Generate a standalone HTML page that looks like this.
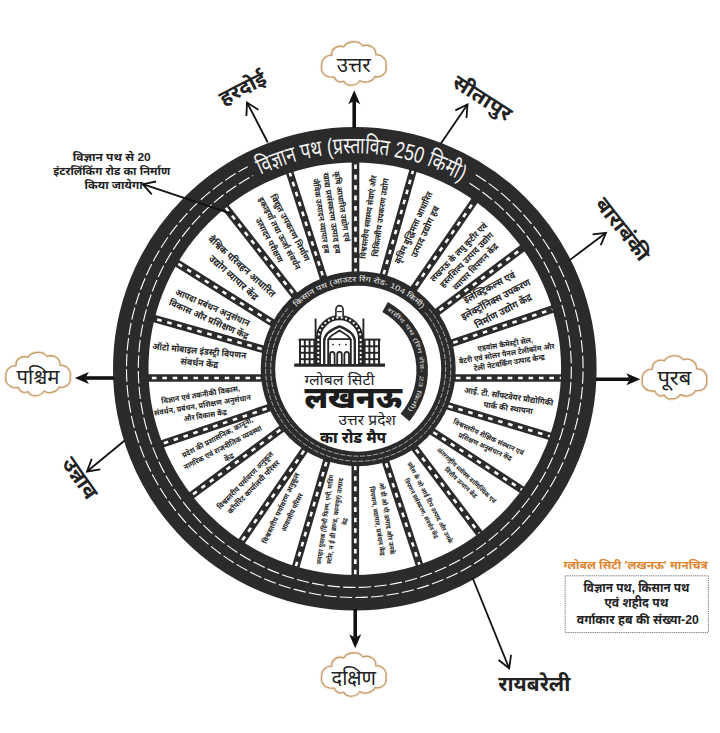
<!DOCTYPE html>
<html lang="hi"><head><meta charset="utf-8"><title>ग्लोबल सिटी लखनऊ</title><style>html,body{margin:0;padding:0;background:#fff}body{width:720px;height:733px;overflow:hidden}</style></head><body>
<svg width="720" height="733" viewBox="0 0 720 733" style="display:block;font-family:'Liberation Sans','Noto Sans Devanagari','Mukta','Lohit Devanagari',sans-serif">
<rect width="720" height="733" fill="#fff"/>
<g id="spokes">
<line x1="355.50" y1="280.50" x2="355.50" y2="155.75" stroke="#2b2b2b" stroke-width="7.6"/>
<line x1="355.50" y1="280.50" x2="355.50" y2="155.75" stroke="#fff" stroke-width="2.6" stroke-dasharray="4.6 5.8" stroke-dashoffset="-7.5"/>
<line x1="381.62" y1="281.45" x2="414.68" y2="164.80" stroke="#2b2b2b" stroke-width="7.6"/>
<line x1="381.62" y1="281.45" x2="414.68" y2="164.80" stroke="#fff" stroke-width="2.6" stroke-dasharray="4.6 5.8" stroke-dashoffset="-7.5"/>
<line x1="411.70" y1="291.58" x2="477.05" y2="197.17" stroke="#2b2b2b" stroke-width="7.6"/>
<line x1="411.70" y1="291.58" x2="477.05" y2="197.17" stroke="#fff" stroke-width="2.6" stroke-dasharray="4.6 5.8" stroke-dashoffset="-7.5"/>
<line x1="433.60" y1="314.80" x2="526.40" y2="245.20" stroke="#2b2b2b" stroke-width="7.6"/>
<line x1="433.60" y1="314.80" x2="526.40" y2="245.20" stroke="#fff" stroke-width="2.6" stroke-dasharray="4.6 5.8" stroke-dashoffset="-7.5"/>
<line x1="446.17" y1="345.06" x2="557.58" y2="307.44" stroke="#2b2b2b" stroke-width="7.6"/>
<line x1="446.17" y1="345.06" x2="557.58" y2="307.44" stroke="#fff" stroke-width="2.6" stroke-dasharray="4.6 5.8" stroke-dashoffset="-7.5"/>
<line x1="448.25" y1="378.00" x2="568.00" y2="378.00" stroke="#2b2b2b" stroke-width="7.6"/>
<line x1="448.25" y1="378.00" x2="568.00" y2="378.00" stroke="#fff" stroke-width="2.6" stroke-dasharray="4.6 5.8" stroke-dashoffset="-7.5"/>
<line x1="441.08" y1="403.98" x2="557.67" y2="438.52" stroke="#2b2b2b" stroke-width="7.6"/>
<line x1="441.08" y1="403.98" x2="557.67" y2="438.52" stroke="#fff" stroke-width="2.6" stroke-dasharray="4.6 5.8" stroke-dashoffset="-7.5"/>
<line x1="427.04" y1="428.14" x2="526.71" y2="492.86" stroke="#2b2b2b" stroke-width="7.6"/>
<line x1="427.04" y1="428.14" x2="526.71" y2="492.86" stroke="#fff" stroke-width="2.6" stroke-dasharray="4.6 5.8" stroke-dashoffset="-7.5"/>
<line x1="411.42" y1="443.62" x2="483.58" y2="538.88" stroke="#2b2b2b" stroke-width="7.6"/>
<line x1="411.42" y1="443.62" x2="483.58" y2="538.88" stroke="#fff" stroke-width="2.6" stroke-dasharray="4.6 5.8" stroke-dashoffset="-7.5"/>
<line x1="383.75" y1="456.15" x2="422.00" y2="572.60" stroke="#2b2b2b" stroke-width="7.6"/>
<line x1="383.75" y1="456.15" x2="422.00" y2="572.60" stroke="#fff" stroke-width="2.6" stroke-dasharray="4.6 5.8" stroke-dashoffset="-7.5"/>
<line x1="355.30" y1="458.25" x2="355.30" y2="583.00" stroke="#2b2b2b" stroke-width="7.6"/>
<line x1="355.30" y1="458.25" x2="355.30" y2="583.00" stroke="#fff" stroke-width="2.6" stroke-dasharray="4.6 5.8" stroke-dashoffset="-7.5"/>
<line x1="328.50" y1="454.82" x2="294.00" y2="572.68" stroke="#2b2b2b" stroke-width="7.6"/>
<line x1="328.50" y1="454.82" x2="294.00" y2="572.68" stroke="#fff" stroke-width="2.6" stroke-dasharray="4.6 5.8" stroke-dashoffset="-7.5"/>
<line x1="308.29" y1="444.67" x2="237.96" y2="546.58" stroke="#2b2b2b" stroke-width="7.6"/>
<line x1="308.29" y1="444.67" x2="237.96" y2="546.58" stroke="#fff" stroke-width="2.6" stroke-dasharray="4.6 5.8" stroke-dashoffset="-7.5"/>
<line x1="286.43" y1="425.24" x2="187.32" y2="498.51" stroke="#2b2b2b" stroke-width="7.6"/>
<line x1="286.43" y1="425.24" x2="187.32" y2="498.51" stroke="#fff" stroke-width="2.6" stroke-dasharray="4.6 5.8" stroke-dashoffset="-7.5"/>
<line x1="273.83" y1="406.19" x2="154.92" y2="446.31" stroke="#2b2b2b" stroke-width="7.6"/>
<line x1="273.83" y1="406.19" x2="154.92" y2="446.31" stroke="#fff" stroke-width="2.6" stroke-dasharray="4.6 5.8" stroke-dashoffset="-7.5"/>
<line x1="268.00" y1="378.00" x2="142.00" y2="378.00" stroke="#2b2b2b" stroke-width="7.6"/>
<line x1="268.00" y1="378.00" x2="142.00" y2="378.00" stroke="#fff" stroke-width="2.6" stroke-dasharray="4.6 5.8" stroke-dashoffset="-7.5"/>
<line x1="268.95" y1="350.92" x2="147.30" y2="316.58" stroke="#2b2b2b" stroke-width="7.6"/>
<line x1="268.95" y1="350.92" x2="147.30" y2="316.58" stroke="#fff" stroke-width="2.6" stroke-dasharray="4.6 5.8" stroke-dashoffset="-7.5"/>
<line x1="276.78" y1="325.49" x2="173.22" y2="260.76" stroke="#2b2b2b" stroke-width="7.6"/>
<line x1="276.78" y1="325.49" x2="173.22" y2="260.76" stroke="#fff" stroke-width="2.6" stroke-dasharray="4.6 5.8" stroke-dashoffset="-7.5"/>
<line x1="297.45" y1="298.78" x2="222.55" y2="203.72" stroke="#2b2b2b" stroke-width="7.6"/>
<line x1="297.45" y1="298.78" x2="222.55" y2="203.72" stroke="#fff" stroke-width="2.6" stroke-dasharray="4.6 5.8" stroke-dashoffset="-7.5"/>
<line x1="324.94" y1="282.62" x2="288.06" y2="167.38" stroke="#2b2b2b" stroke-width="7.6"/>
<line x1="324.94" y1="282.62" x2="288.06" y2="167.38" stroke="#fff" stroke-width="2.6" stroke-dasharray="4.6 5.8" stroke-dashoffset="-7.5"/>
</g>
<circle cx="354.8" cy="368.7" r="224.05" fill="none" stroke="#2b2b2b" stroke-width="35.50"/>
<path d="M469.53 183.23A216.50 218.70 0 1 1 253.16 175.60" fill="none" stroke="#fff" stroke-width="1.1" stroke-dasharray="12.4 3.2"/>
<path d="M475.78 174.67A228.30 228.80 0 1 1 247.62 166.68" fill="none" stroke="#fff" stroke-width="1.1" stroke-dasharray="12.4 3.2"/>
<path id="tp1" d="M260.71 174.94A215.40 215.40 0 0 1 461.20 181.41" fill="none"/>
<text font-size="23" fill="#f4f4f4"><textPath href="#tp1" textLength="208.6" lengthAdjust="spacingAndGlyphs">विज्ञान पथ (प्रस्तावित 250 किमी)</textPath></text>
<circle cx="358.2" cy="368.7" r="83.0" fill="#fff"/>
<circle cx="358.2" cy="368.7" r="90.25" fill="none" stroke="#2b2b2b" stroke-width="14.50"/>
<path d="M425.23 312.46A87.50 87.50 0 1 1 293.17 310.15" fill="none" stroke="#ddd" stroke-width="0.7" stroke-dasharray="5 1.6"/>
<path d="M429.14 309.18A92.60 92.60 0 1 1 289.38 306.74" fill="none" stroke="#ddd" stroke-width="0.7" stroke-dasharray="5 1.6"/>
<path id="tp2" d="M296.54 307.04A87.20 87.20 0 0 1 421.45 308.68" fill="none"/>
<text font-size="7.4" fill="#eee"><textPath href="#tp2" textLength="139.3" lengthAdjust="spacingAndGlyphs">किसान पथ (आउटर रिंग रोड- 104 किमी)</textPath></text>
<path d="M385.09 306.89A72.90 72.90 0 0 1 404.98 417.45" fill="none" stroke="#2b2b2b" stroke-width="11.5"/>
<path id="tp3" d="M386.87 310.27A70.90 70.90 0 0 1 405.17 414.05" fill="none"/>
<text font-size="5.4" fill="#ddd"><textPath href="#tp3" textLength="114.0" lengthAdjust="spacingAndGlyphs">शहीद पथ (रिंग रोड- 23 किमी)</textPath></text>
<g fill="#262626" font-weight="700" text-anchor="middle">
<text transform="translate(374.90 216.70) rotate(-82.22)" font-size="8.16">
<tspan x="0" y="-3.73" textLength="84" lengthAdjust="spacingAndGlyphs">विश्वस्तरीय स्वास्थ्य सेवाएं और</tspan>
<tspan x="0" y="8.47" textLength="79" lengthAdjust="spacingAndGlyphs">चिकित्सीय उपकरण उद्योग</tspan>
</text>
<text transform="translate(420.00 229.30) rotate(-65.04)" font-size="9.1">
<tspan x="0" y="-3.46" textLength="78.5" lengthAdjust="spacingAndGlyphs">कृत्रिम बुद्धिमत्ता आधारित</tspan>
<tspan x="0" y="8.74" textLength="55.7" lengthAdjust="spacingAndGlyphs">उत्पाद उद्योग हब</tspan>
</text>
<text transform="translate(467.80 259.30) rotate(-46.03)" font-size="8.79">
<tspan x="0" y="-8.55" textLength="77.8" lengthAdjust="spacingAndGlyphs">लखनऊ के लघु कुटीर एवं</tspan>
<tspan x="0" y="2.55" textLength="73" lengthAdjust="spacingAndGlyphs">हस्तशिल्प उत्पाद उद्योग</tspan>
<tspan x="0" y="13.65" textLength="61" lengthAdjust="spacingAndGlyphs">व्यापार विपणन केंद्र</tspan>
</text>
<text transform="translate(497.10 299.30) rotate(-27.69)" font-size="9.88">
<tspan x="0" y="-10.83" textLength="57" lengthAdjust="spacingAndGlyphs">इलेक्ट्रिकल्स एवं</tspan>
<tspan x="0" y="2.87" textLength="77" lengthAdjust="spacingAndGlyphs">इलेक्ट्रॉनिक्स उपकरण</tspan>
<tspan x="0" y="16.57" textLength="62.6" lengthAdjust="spacingAndGlyphs">निर्माण उद्योग केंद्र</tspan>
</text>
<text transform="translate(507.80 353.80) rotate(-9.23)" font-size="7.69">
<tspan x="0" y="-7.17" textLength="56" lengthAdjust="spacingAndGlyphs">एडवांस कैमेस्ट्री सेल,</tspan>
<tspan x="0" y="2.23" textLength="96.7" lengthAdjust="spacingAndGlyphs">बैटरी एवं सोलर पैनल टेलीकॉम और</tspan>
<tspan x="0" y="11.63" textLength="71.8" lengthAdjust="spacingAndGlyphs">टेली नेटवर्किंग उत्पाद केन्द्र</tspan>
</text>
<text transform="translate(508.90 402.70) rotate(8.33)" font-size="8.38">
<tspan x="0" y="-3.32" textLength="90" lengthAdjust="spacingAndGlyphs">आई. टी. सॉफ्टवेयर प्रौद्योगिकी</tspan>
<tspan x="0" y="8.18" textLength="49.5" lengthAdjust="spacingAndGlyphs">पार्क की स्थापना</tspan>
</text>
<text transform="translate(487.10 442.50) rotate(24.64)" font-size="7.08">
<tspan x="0" y="-3.00" textLength="76.9" lengthAdjust="spacingAndGlyphs">विश्वस्तरीय शैक्षिक संस्थान एवं</tspan>
<tspan x="0" y="7.10" textLength="58.3" lengthAdjust="spacingAndGlyphs">प्रशिक्षण अनुसंधान केंद्र</tspan>
</text>
<text transform="translate(463.70 479.50) rotate(42.96)" font-size="6.4">
<tspan x="0" y="-2.74" textLength="78.4" lengthAdjust="spacingAndGlyphs">अंतरराष्ट्रीय ब्लॉक्स वाणिज्यिक एवं</tspan>
<tspan x="0" y="6.46" textLength="42" lengthAdjust="spacingAndGlyphs">वित्तीय उत्थान केंद्र</tspan>
</text>
<text transform="translate(425.60 506.10) rotate(62.48)" font-size="6.33">
<tspan x="0" y="-3.41" textLength="90.9" lengthAdjust="spacingAndGlyphs">प्रदेश के जो आई टिप उत्पाद और उनके</tspan>
<tspan x="0" y="7.09" textLength="66.8" lengthAdjust="spacingAndGlyphs">विपणन प्रसंस्करण, संवर्धन केंद्र</tspan>
</text>
<text transform="translate(381.80 520.20) rotate(81.00)" font-size="6.83">
<tspan x="0" y="-3.12" textLength="72.6" lengthAdjust="spacingAndGlyphs">ओ डी ओ पी उत्पाद और उनके</tspan>
<tspan x="0" y="7.08" textLength="69.9" lengthAdjust="spacingAndGlyphs">विपणन, व्यापार, प्रबंधन केंद्र</tspan>
</text>
<text transform="translate(335.40 520.20) rotate(-81.92)" font-size="6.65">
<tspan x="0" y="-8.07" textLength="90.4" lengthAdjust="spacingAndGlyphs">जवाहर पुस्तक (हिन्दी फिल्म, एनी, माडिंग</tspan>
<tspan x="0" y="1.93" textLength="86.8" lengthAdjust="spacingAndGlyphs">स्टोर, न ई डी ब्रान्ड, कानपुर) उत्पाद</tspan>
<tspan x="0" y="11.93" textLength="7" lengthAdjust="spacingAndGlyphs">केंद्र</tspan>
</text>
<text transform="translate(287.00 510.00) rotate(-64.49)" font-size="7.24">
<tspan x="0" y="-3.90" textLength="77.4" lengthAdjust="spacingAndGlyphs">विश्वस्तरीय पर्यावरण अनुकूल</tspan>
<tspan x="0" y="8.10" textLength="41.8" lengthAdjust="spacingAndGlyphs">आवासीय परिसर</tspan>
</text>
<text transform="translate(250.10 483.70) rotate(-45.95)" font-size="7.66">
<tspan x="0" y="-3.08" textLength="77" lengthAdjust="spacingAndGlyphs">विश्वस्तरीय पर्यावरण अनुकूल</tspan>
<tspan x="0" y="7.52" textLength="70.9" lengthAdjust="spacingAndGlyphs">कॉर्पोरेट कार्यालयी परिसर</tspan>
</text>
<text transform="translate(223.80 447.50) rotate(-27.46)" font-size="7.61">
<tspan x="0" y="-9.29" textLength="78.7" lengthAdjust="spacingAndGlyphs">प्रदेश की प्रशासनिक, कानूनी,</tspan>
<tspan x="0" y="2.21" textLength="87" lengthAdjust="spacingAndGlyphs">नागरिक एवं राजनीतिक व्यवस्था</tspan>
<tspan x="0" y="13.71" textLength="10" lengthAdjust="spacingAndGlyphs">केंद्र</tspan>
</text>
<text transform="translate(203.50 405.40) rotate(-9.30)" font-size="7.73">
<tspan x="0" y="-8.36" textLength="79.5" lengthAdjust="spacingAndGlyphs">विज्ञान एवं तकनीकी विकास,</tspan>
<tspan x="0" y="2.24" textLength="97.7" lengthAdjust="spacingAndGlyphs">संवर्धन, प्रबंधन, प्रशिक्षण अनुसंधान</tspan>
<tspan x="0" y="12.84" textLength="43.5" lengthAdjust="spacingAndGlyphs">और विकास केंद्र</tspan>
</text>
<text transform="translate(199.90 357.50) rotate(5.70)" font-size="9.26">
<tspan x="0" y="-3.36" textLength="94.2" lengthAdjust="spacingAndGlyphs">ऑटो मोबाइल इंडस्ट्री विपणन</tspan>
<tspan x="0" y="8.74" textLength="37.7" lengthAdjust="spacingAndGlyphs">संवर्धन केंद्र</tspan>
</text>
<text transform="translate(211.00 314.00) rotate(23.73)" font-size="9.27">
<tspan x="0" y="-3.46" textLength="80.3" lengthAdjust="spacingAndGlyphs">आपदा प्रबंधन अनुसंधान</tspan>
<tspan x="0" y="8.84" textLength="85.9" lengthAdjust="spacingAndGlyphs">विकास और प्रशिक्षण केंद्र</tspan>
</text>
<text transform="translate(237.90 272.80) rotate(41.83)" font-size="9.76">
<tspan x="0" y="-4.07" textLength="86.3" lengthAdjust="spacingAndGlyphs">वैश्विक परिवहन आधारित</tspan>
<tspan x="0" y="9.73" textLength="62" lengthAdjust="spacingAndGlyphs">उद्योग व्यापार केंद्र</tspan>
</text>
<text transform="translate(279.60 234.60) rotate(62.01)" font-size="8.65">
<tspan x="0" y="-9.59" textLength="74.2" lengthAdjust="spacingAndGlyphs">विद्युत उपकरण निर्माण</tspan>
<tspan x="0" y="2.51" textLength="81" lengthAdjust="spacingAndGlyphs">इकाइयाँ तथा ऊर्जा संवर्धन</tspan>
<tspan x="0" y="14.61" textLength="49" lengthAdjust="spacingAndGlyphs">उत्पादन परीक्षण</tspan>
</text>
<text transform="translate(331.60 214.20) rotate(81.28)" font-size="8.09">
<tspan x="-5" y="-8.65" textLength="71" lengthAdjust="spacingAndGlyphs">कृषि आधारित उद्योग एवं</tspan>
<tspan x="0" y="2.35" textLength="82" lengthAdjust="spacingAndGlyphs">खाद्य प्रसंस्करण उत्पाद हब</tspan>
<tspan x="0" y="13.35" textLength="75.5" lengthAdjust="spacingAndGlyphs">जैविक उत्पादन व्यापार हब</tspan>
</text>
</g>
<line x1="354.20" y1="128.00" x2="354.20" y2="100.80" stroke="#111" stroke-width="3.6"/>
<path d="M354.20 90.30L360.20 104.30L354.20 100.80L348.20 104.30Z" fill="#111"/>
<line x1="355.20" y1="609.00" x2="355.20" y2="637.70" stroke="#111" stroke-width="3.6"/>
<path d="M355.20 648.20L349.20 634.20L355.20 637.70L361.20 634.20Z" fill="#111"/>
<line x1="114.00" y1="378.00" x2="85.40" y2="378.00" stroke="#111" stroke-width="3.6"/>
<path d="M74.90 378.00L88.90 372.00L85.40 378.00L88.90 384.00Z" fill="#111"/>
<line x1="596.00" y1="379.30" x2="629.80" y2="379.30" stroke="#111" stroke-width="3.6"/>
<path d="M640.30 379.30L626.30 385.30L629.80 379.30L626.30 373.30Z" fill="#111"/>
<line x1="267.80" y1="142.50" x2="247.00" y2="102.50" stroke="#111" stroke-width="1.8"/>
<path d="M246.41 115.99L247.00 102.50L258.38 109.76" fill="none" stroke="#111" stroke-width="1.8" stroke-linejoin="miter"/>
<line x1="440.90" y1="143.50" x2="467.50" y2="104.50" stroke="#111" stroke-width="1.8"/>
<path d="M455.34 110.36L467.50 104.50L466.49 117.96" fill="none" stroke="#111" stroke-width="1.8" stroke-linejoin="miter"/>
<line x1="569.00" y1="260.60" x2="606.00" y2="232.80" stroke="#111" stroke-width="1.8"/>
<path d="M592.60 234.43L606.00 232.80L600.71 245.22" fill="none" stroke="#111" stroke-width="1.8" stroke-linejoin="miter"/>
<line x1="472.60" y1="578.00" x2="509.20" y2="668.30" stroke="#111" stroke-width="1.8"/>
<path d="M511.06 654.93L509.20 668.30L498.55 660.00" fill="none" stroke="#111" stroke-width="1.8" stroke-linejoin="miter"/>
<line x1="124.40" y1="440.80" x2="87.00" y2="471.50" stroke="#111" stroke-width="1.8"/>
<path d="M100.32 469.30L87.00 471.50L91.75 458.86" fill="none" stroke="#111" stroke-width="1.8" stroke-linejoin="miter"/>
<line x1="230.30" y1="213.40" x2="142.80" y2="184.20" stroke="#111" stroke-width="1.8"/>
<path d="M151.75 194.30L142.80 184.20L156.03 181.50" fill="none" stroke="#111" stroke-width="1.8" stroke-linejoin="miter"/>
<g transform="translate(320.3 41.0)">
<path d="M14 36 C5 37 0 31 1.5 25 C1 18 6 14 11.5 14.5 C11 8 17 3.5 23.5 6 C27 0 38 -1 42.5 5 C49 2.5 56 7 55.5 14 C62 13.5 67 19 65.5 25.5 C67 32 61 37 54.5 35.5 C52 41 44 42.5 39.5 39.5 C35.5 45.5 26 45.5 23.5 40 C20 42 15.5 40.5 14 36Z" fill="#fff" stroke="#f3dcc0" stroke-width="3.4" stroke-linejoin="round" opacity="0.7"/>
<path d="M14 36 C5 37 0 31 1.5 25 C1 18 6 14 11.5 14.5 C11 8 17 3.5 23.5 6 C27 0 38 -1 42.5 5 C49 2.5 56 7 55.5 14 C62 13.5 67 19 65.5 25.5 C67 32 61 37 54.5 35.5 C52 41 44 42.5 39.5 39.5 C35.5 45.5 26 45.5 23.5 40 C20 42 15.5 40.5 14 36Z" fill="#fff" stroke="#c79a6a" stroke-width="1.3" stroke-linejoin="round"/>
</g>
<text x="353.8" y="72.0" font-size="21" text-anchor="middle" fill="#222" textLength="34" lengthAdjust="spacingAndGlyphs">उत्तर</text>
<g transform="translate(320.3 652.0)">
<path d="M14 36 C5 37 0 31 1.5 25 C1 18 6 14 11.5 14.5 C11 8 17 3.5 23.5 6 C27 0 38 -1 42.5 5 C49 2.5 56 7 55.5 14 C62 13.5 67 19 65.5 25.5 C67 32 61 37 54.5 35.5 C52 41 44 42.5 39.5 39.5 C35.5 45.5 26 45.5 23.5 40 C20 42 15.5 40.5 14 36Z" fill="#fff" stroke="#f3dcc0" stroke-width="3.4" stroke-linejoin="round" opacity="0.7"/>
<path d="M14 36 C5 37 0 31 1.5 25 C1 18 6 14 11.5 14.5 C11 8 17 3.5 23.5 6 C27 0 38 -1 42.5 5 C49 2.5 56 7 55.5 14 C62 13.5 67 19 65.5 25.5 C67 32 61 37 54.5 35.5 C52 41 44 42.5 39.5 39.5 C35.5 45.5 26 45.5 23.5 40 C20 42 15.5 40.5 14 36Z" fill="#fff" stroke="#c79a6a" stroke-width="1.3" stroke-linejoin="round"/>
</g>
<text x="353.8" y="685.0" font-size="21" text-anchor="middle" fill="#222" textLength="44.5" lengthAdjust="spacingAndGlyphs">दक्षिण</text>
<g transform="translate(4.5 351.5)">
<path d="M14 36 C5 37 0 31 1.5 25 C1 18 6 14 11.5 14.5 C11 8 17 3.5 23.5 6 C27 0 38 -1 42.5 5 C49 2.5 56 7 55.5 14 C62 13.5 67 19 65.5 25.5 C67 32 61 37 54.5 35.5 C52 41 44 42.5 39.5 39.5 C35.5 45.5 26 45.5 23.5 40 C20 42 15.5 40.5 14 36Z" fill="#fff" stroke="#f3dcc0" stroke-width="3.4" stroke-linejoin="round" opacity="0.7"/>
<path d="M14 36 C5 37 0 31 1.5 25 C1 18 6 14 11.5 14.5 C11 8 17 3.5 23.5 6 C27 0 38 -1 42.5 5 C49 2.5 56 7 55.5 14 C62 13.5 67 19 65.5 25.5 C67 32 61 37 54.5 35.5 C52 41 44 42.5 39.5 39.5 C35.5 45.5 26 45.5 23.5 40 C20 42 15.5 40.5 14 36Z" fill="#fff" stroke="#c79a6a" stroke-width="1.3" stroke-linejoin="round"/>
</g>
<text x="38.0" y="384.0" font-size="21" text-anchor="middle" fill="#222" textLength="43" lengthAdjust="spacingAndGlyphs">पश्चिम</text>
<g transform="translate(640.9 354.9)">
<path d="M14 36 C5 37 0 31 1.5 25 C1 18 6 14 11.5 14.5 C11 8 17 3.5 23.5 6 C27 0 38 -1 42.5 5 C49 2.5 56 7 55.5 14 C62 13.5 67 19 65.5 25.5 C67 32 61 37 54.5 35.5 C52 41 44 42.5 39.5 39.5 C35.5 45.5 26 45.5 23.5 40 C20 42 15.5 40.5 14 36Z" fill="#fff" stroke="#f3dcc0" stroke-width="3.4" stroke-linejoin="round" opacity="0.7"/>
<path d="M14 36 C5 37 0 31 1.5 25 C1 18 6 14 11.5 14.5 C11 8 17 3.5 23.5 6 C27 0 38 -1 42.5 5 C49 2.5 56 7 55.5 14 C62 13.5 67 19 65.5 25.5 C67 32 61 37 54.5 35.5 C52 41 44 42.5 39.5 39.5 C35.5 45.5 26 45.5 23.5 40 C20 42 15.5 40.5 14 36Z" fill="#fff" stroke="#c79a6a" stroke-width="1.3" stroke-linejoin="round"/>
</g>
<text x="674.4" y="384.9" font-size="21" text-anchor="middle" fill="#222" textLength="34" lengthAdjust="spacingAndGlyphs">पूरब</text>
<text transform="translate(243 89) rotate(-27)" font-size="20" font-weight="700" text-anchor="middle" fill="#222" textLength="50" lengthAdjust="spacingAndGlyphs" y="6.0">हरदोई</text>
<text transform="translate(482 98.6) rotate(33)" font-size="20" font-weight="700" text-anchor="middle" fill="#222" textLength="66" lengthAdjust="spacingAndGlyphs" y="6.0">सीतापुर</text>
<text transform="translate(622 229.7) rotate(52)" font-size="20" font-weight="700" text-anchor="middle" fill="#222" textLength="74" lengthAdjust="spacingAndGlyphs" y="6.0">बाराबंकी</text>
<text transform="translate(534.3 685) rotate(0)" font-size="21" font-weight="700" text-anchor="middle" fill="#222" textLength="72" lengthAdjust="spacingAndGlyphs" y="6.3">रायबरेली</text>
<text transform="translate(79.3 478.4) rotate(55)" font-size="21" font-weight="700" text-anchor="middle" fill="#222" textLength="46" lengthAdjust="spacingAndGlyphs" y="6.3">उन्नाव</text>
<g font-size="11" font-weight="700" fill="#222" text-anchor="middle">
<text x="111.7" y="161" textLength="78" lengthAdjust="spacingAndGlyphs">विज्ञान पथ से 20</text>
<text x="111.7" y="175.4" textLength="117" lengthAdjust="spacingAndGlyphs">इंटरलिंकिंग रोड का निर्माण</text>
<text x="113.6" y="189.4" textLength="58" lengthAdjust="spacingAndGlyphs">किया जायेगा</text>
</g>
<text x="635.6" y="568.6" font-size="11.5" font-weight="700" fill="#e0832d" text-anchor="middle" textLength="144" lengthAdjust="spacingAndGlyphs">ग्लोबल सिटी 'लखनऊ' मानचित्र</text>
<rect x="565.2" y="575.8" width="143.2" height="56.8" fill="#fff" stroke="#6a6a6a" stroke-width="0.9" stroke-dasharray="1.3 0.9"/>
<g font-size="12" font-weight="700" fill="#222" text-anchor="middle">
<text x="636.4" y="591.5" textLength="106" lengthAdjust="spacingAndGlyphs">विज्ञान पथ, किसान पथ</text>
<text x="636.4" y="607" textLength="64" lengthAdjust="spacingAndGlyphs">एवं शहीद पथ</text>
<text x="637.8" y="623.7" textLength="122" lengthAdjust="spacingAndGlyphs">वर्गाकार हब की संख्या-20</text>
</g>
<g fill="#1c1c1c">
<text x="304.5" y="385.3" font-size="15" font-weight="400" textLength="70" lengthAdjust="spacingAndGlyphs">ग्लोबल सिटी</text>
<text x="304.5" y="407.7" font-size="31" font-weight="900" textLength="97" lengthAdjust="spacingAndGlyphs">लखनऊ</text>
<text x="338.5" y="425.2" font-size="15" font-weight="400" textLength="57.4" lengthAdjust="spacingAndGlyphs">उत्तर प्रदेश</text>
<text x="320" y="442.7" font-size="16" font-weight="800" textLength="66.2" lengthAdjust="spacingAndGlyphs">का रोड मैप</text>
</g>
<g id="monument" stroke="#262626" fill="none" stroke-linecap="butt">
<line x1="294.2" y1="365.2" x2="385" y2="365.2" stroke-width="3.2"/>
<line x1="298.59999999999997" y1="339.6" x2="315.8" y2="339.6" stroke-width="2"/>
<line x1="299.2" y1="346.3" x2="315.2" y2="346.3" stroke-width="1.9"/>
<line x1="299.2" y1="352.8" x2="315.2" y2="352.8" stroke-width="1.9"/>
<line x1="299.2" y1="359.2" x2="315.2" y2="359.2" stroke-width="1.9"/>
<line x1="300.00" y1="339" x2="300.00" y2="364" stroke-width="2.0"/>
<line x1="304.80" y1="339" x2="304.80" y2="364" stroke-width="2.0"/>
<line x1="309.60" y1="339" x2="309.60" y2="364" stroke-width="2.0"/>
<line x1="314.40" y1="339" x2="314.40" y2="364" stroke-width="2.0"/>
<line x1="363.2" y1="339.6" x2="380.40000000000003" y2="339.6" stroke-width="2"/>
<line x1="363.8" y1="346.3" x2="379.8" y2="346.3" stroke-width="1.9"/>
<line x1="363.8" y1="352.8" x2="379.8" y2="352.8" stroke-width="1.9"/>
<line x1="363.8" y1="359.2" x2="379.8" y2="359.2" stroke-width="1.9"/>
<line x1="364.60" y1="339" x2="364.60" y2="364" stroke-width="2.0"/>
<line x1="369.40" y1="339" x2="369.40" y2="364" stroke-width="2.0"/>
<line x1="374.20" y1="339" x2="374.20" y2="364" stroke-width="2.0"/>
<line x1="379.00" y1="339" x2="379.00" y2="364" stroke-width="2.0"/>
<line x1="315.6" y1="318.5" x2="315.6" y2="364" stroke-width="1.9"/>
<line x1="363.4" y1="318.5" x2="363.4" y2="364" stroke-width="1.9"/>
<path d="M318.30 364 L318.30 338.8 A21.2 21.2 0 0 1 360.70 338.8 L360.70 364" stroke-width="5.4" fill="#fff"/>
<circle cx="318.30" cy="361.50" r="1.15" fill="#fff" stroke="none"/>
<circle cx="360.70" cy="361.50" r="1.15" fill="#fff" stroke="none"/>
<circle cx="318.30" cy="357.20" r="1.15" fill="#fff" stroke="none"/>
<circle cx="360.70" cy="357.20" r="1.15" fill="#fff" stroke="none"/>
<circle cx="318.30" cy="352.90" r="1.15" fill="#fff" stroke="none"/>
<circle cx="360.70" cy="352.90" r="1.15" fill="#fff" stroke="none"/>
<circle cx="318.30" cy="348.60" r="1.15" fill="#fff" stroke="none"/>
<circle cx="360.70" cy="348.60" r="1.15" fill="#fff" stroke="none"/>
<circle cx="318.30" cy="344.30" r="1.15" fill="#fff" stroke="none"/>
<circle cx="360.70" cy="344.30" r="1.15" fill="#fff" stroke="none"/>
<circle cx="318.30" cy="340.00" r="1.15" fill="#fff" stroke="none"/>
<circle cx="360.70" cy="340.00" r="1.15" fill="#fff" stroke="none"/>
<circle cx="318.76" cy="334.39" r="1.15" fill="#fff" stroke="none"/>
<circle cx="320.13" cy="330.18" r="1.15" fill="#fff" stroke="none"/>
<circle cx="322.35" cy="326.34" r="1.15" fill="#fff" stroke="none"/>
<circle cx="325.31" cy="323.05" r="1.15" fill="#fff" stroke="none"/>
<circle cx="328.90" cy="320.44" r="1.15" fill="#fff" stroke="none"/>
<circle cx="332.95" cy="318.64" r="1.15" fill="#fff" stroke="none"/>
<circle cx="337.28" cy="317.72" r="1.15" fill="#fff" stroke="none"/>
<circle cx="341.72" cy="317.72" r="1.15" fill="#fff" stroke="none"/>
<circle cx="346.05" cy="318.64" r="1.15" fill="#fff" stroke="none"/>
<circle cx="350.10" cy="320.44" r="1.15" fill="#fff" stroke="none"/>
<circle cx="353.69" cy="323.05" r="1.15" fill="#fff" stroke="none"/>
<circle cx="356.65" cy="326.34" r="1.15" fill="#fff" stroke="none"/>
<circle cx="358.87" cy="330.18" r="1.15" fill="#fff" stroke="none"/>
<circle cx="360.24" cy="334.39" r="1.15" fill="#fff" stroke="none"/>
<path d="M335.9 316.4 L335.9 309.5 A3.6 3.9 0 0 1 343.1 309.5 L343.1 316.4" stroke-width="1.6" fill="#fff"/>
<line x1="337.1" y1="311.6" x2="341.9" y2="311.6" stroke-width="1.2"/>
<path d="M324.2 364 L324.2 341 C324.2 334 331.5 329.5 339.5 326.4 C347.5 329.5 354.8 334 354.8 341 L354.8 364" stroke-width="2.3"/>
<path d="M328.5 339.2 C330.5 335 335.5 333.5 339.5 330.6 C343.5 333.5 348.5 335 350.5 339.2 Z" stroke-width="1.8"/>
<path d="M328.2 339.2 L328.2 364 M350.8 339.2 L350.8 364" stroke-width="1.9"/>
<circle cx="333.0" cy="344.6" r="0.9" fill="#262626" stroke="none"/>
<circle cx="339.5" cy="344.6" r="0.9" fill="#262626" stroke="none"/>
<circle cx="346.0" cy="344.6" r="0.9" fill="#262626" stroke="none"/>
<path d="M330.00 364 L330.00 354.5 A2.3 2.6 0 0 1 334.60 354.5 L334.60 364" stroke-width="1.8"/>
<path d="M337.20 364 L337.20 354.5 A2.3 2.6 0 0 1 341.80 354.5 L341.80 364" stroke-width="1.8"/>
<path d="M344.40 364 L344.40 354.5 A2.3 2.6 0 0 1 349.00 354.5 L349.00 364" stroke-width="1.8"/>
</g>
</svg>
</body></html>
